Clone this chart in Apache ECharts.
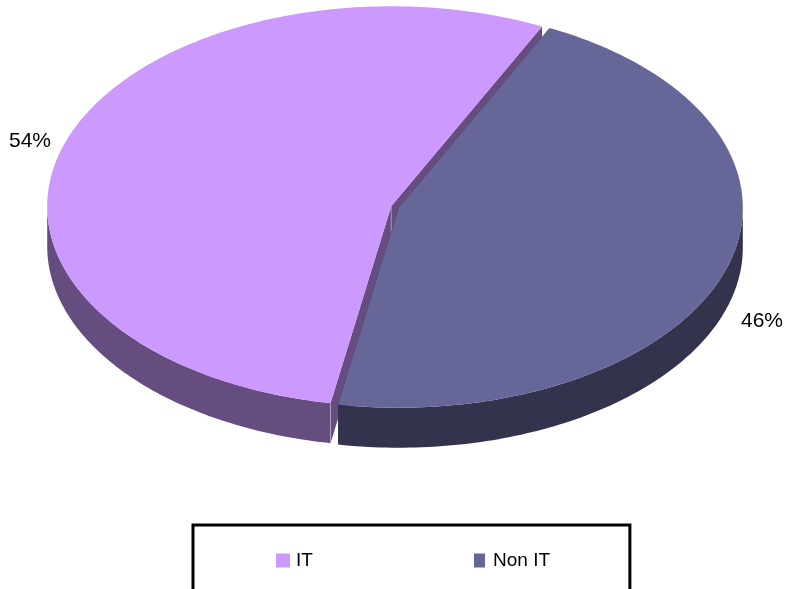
<!DOCTYPE html>
<html><head><meta charset="utf-8">
<style>html,body{margin:0;padding:0;background:#fff;overflow:hidden}#c{width:787px;height:589px}</style>
<script src="https://cdn.jsdelivr.net/npm/echarts@6/dist/echarts.min.js"></script>
</head><body><div id="c"></div>
<script>
var categories = ['IT', 'Non IT'];
var values = [54.4, 45.6];
var topColors = ['#CC99FF', '#666699'];
var wallColors = ['#664D80', '#33334D'];

var layout = {
  cx: 395, cy: 207, rx: 344, ry: 200, depth: 40, explode: 4, startDeg: 64,
  labelAt: [[30, 141], [762, 321]], edge: 'rgba(255,255,255,0.3)', font: '21px "Liberation Sans", Arial, sans-serif'
};
var total = values.reduce(function (a, b) { return a + b; }, 0);

function startOf(i) {
  var s = layout.startDeg;
  for (var k = 0; k < i; k++) s += values[k] / total * 360;
  return s;
}
function renderSlice(params, api) {
  var i = params.seriesIndex, v = api.value(0), L = layout;
  var a0 = startOf(i), a1 = a0 + v / total * 360, mid = (a0 + a1) / 2 * Math.PI / 180;
  var cx = L.cx + L.explode * Math.cos(mid);
  var cy = L.cy - L.explode * Math.sin(mid) * L.ry / L.rx;
  function rim(deg, dy) {
    var t = deg * Math.PI / 180;
    return [cx + L.rx * Math.cos(t), cy - L.ry * Math.sin(t) + (dy || 0)];
  }
  var top = [[cx, cy]], deg;
  for (deg = a0; deg < a1; deg += 1) top.push(rim(deg));
  top.push(rim(a1));
  var cut = function (a) {
    return { type: 'polygon', shape: { points: [[cx, cy], rim(a), rim(a, L.depth), [cx, cy + L.depth]] },
      style: { fill: wallColors[i] } };
  };
  var children = [cut(a0), cut(a1)];
  // outer wall: every stretch of the rim on the front half (180..360 degrees, mod 360)
  [[180, 360], [540, 720]].forEach(function (r) {
    var from = Math.max(a0, r[0]), to = Math.min(a1, r[1]);
    if (to <= from) return;
    var up = [], down = [];
    for (deg = from; deg < to; deg += 1) { up.push(rim(deg)); down.unshift(rim(deg, L.depth)); }
    up.push(rim(to)); down.unshift(rim(to, L.depth));
    children.push({ type: 'polygon', shape: { points: up.concat(down) }, style: { fill: wallColors[i] } });
  });
  if (i === 0) {
    children.push({ type: 'line', shape: { x1: cx, y1: cy, x2: cx, y2: cy + L.depth }, style: { stroke: L.edge, lineWidth: 1 } });
    var e = rim(a1);
    children.push({ type: 'line', shape: { x1: e[0], y1: e[1], x2: e[0], y2: e[1] + L.depth }, style: { stroke: L.edge, lineWidth: 1 } });
  }
  children.push({ type: 'polygon', shape: { points: top }, style: { fill: topColors[i] } });
  children.push({ type: 'text', style: {
    text: Math.round(v) + '%', x: L.labelAt[i][0], y: L.labelAt[i][1], align: 'center', verticalAlign: 'middle',
    fill: '#000', font: L.font } });
  return { type: 'group', children: children };
}

var legendFont = { color: '#000', fontSize: 19, fontFamily: '"Liberation Sans", Arial, sans-serif' };
var chart = echarts.init(document.getElementById('c'), null, { renderer: 'canvas' });
chart.setOption({
  animation: false,
  backgroundColor: '#fff',
  legend: [
    { data: [{ name: categories[0], icon: 'rect' }], left: 193, top: 525, orient: 'horizontal', selectedMode: false,
      itemWidth: 14, itemHeight: 14, itemGap: 0,
      padding: [26, 317, 40, 83], borderColor: '#000', borderWidth: 3, borderRadius: 0, backgroundColor: '#fff',
      textStyle: Object.assign({ padding: [6, 0, 0, 1] }, legendFont) },
    { data: [{ name: categories[1], icon: 'rect' }], left: 474, top: 551, padding: 0, selectedMode: false,
      itemWidth: 11, itemHeight: 14, textStyle: Object.assign({ padding: [6, 0, 0, 3] }, legendFont) }
  ],
  series: categories.map(function (name, i) {
    return { type: 'custom', name: name, coordinateSystem: 'none', renderItem: renderSlice,
      itemStyle: { color: topColors[i] }, data: [[values[i]]], silent: true, z: 2 + i };
  })
});
</script>
</body></html>
